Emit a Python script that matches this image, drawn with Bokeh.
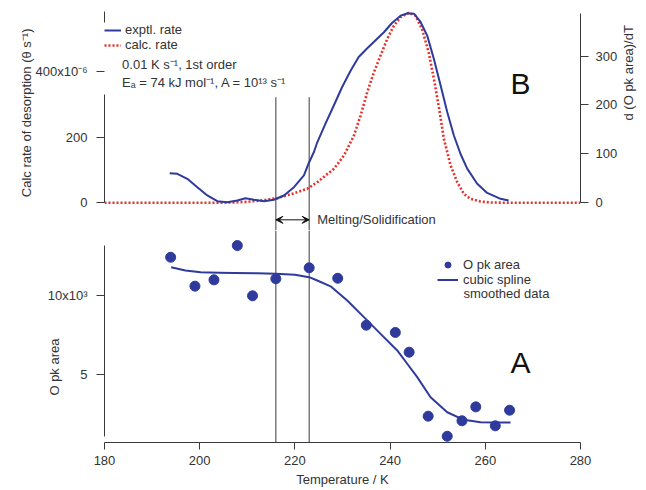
import math
from bokeh.plotting import figure
from bokeh.layouts import column
from bokeh.models import (Range1d, LinearAxis, FixedTicker, Label, Arrow, VeeHead,
                          Legend, LegendItem, Title)
from bokeh.embed import file_html
from bokeh.resources import INLINE

FONT = "Liberation Sans"
BLUE = "#2e3b9c"
RED = "#e8302a"
AXIS = "#3a3a3a"
TEXT = "#333333"

# ---------------- data ----------------
# Panel A: O pk area (raw) and cubic-spline smoothed data
area_T = [193.9, 199.0, 203.0, 207.9, 211.1, 216.0, 223.0, 229.0, 235.0, 241.1,
          244.0, 248.0, 252.0, 255.1, 258.0, 262.1, 265.1]
area_vals = [12440, 10610, 11010, 13180, 10000, 11080, 11770, 11110, 8140, 7680,
             6430, 2380, 1110, 2090, 2970, 1770, 2760]
spline_T = [194, 197, 200.2, 204, 207.2, 212, 216, 220, 223, 224.7, 227.5, 231,
            234.5, 238, 241.5, 243.6, 245.7, 248.5, 252, 255.5, 259, 262, 265.3]
spline_vals = [11810, 11600, 11490, 11460, 11450, 11420, 11390, 11330, 11180, 10970,
               10600, 9700, 8650, 7590, 6540, 5700, 4850, 3580, 2630, 2150, 2000,
               1980, 1980]

# Panel B: experimental rate d(O pk area)/dT (right axis)
exptl_T = [193.7, 195.3, 197.4, 199.5, 201.6, 203.7, 205.8, 207.9, 209.6, 211.4,
           213.5, 215.6, 217.7, 219.8, 221.9, 222.9, 224.0, 224.7, 226.4, 228.2,
           229.9, 231.7, 233.4, 235.2, 236.9, 238.7, 240.4, 242.2, 243.7, 245.0,
           246.4, 247.8, 249.2, 250.6, 252.0, 253.4, 254.8, 256.2, 258.3, 260.4,
           263.2, 264.9]
exptl_rate = [59.5, 58.3, 48, 30.8, 13.8, 2, 0, 3.5, 8, 5,
              2, 5, 13.8, 30.8, 55, 80, 103, 123, 161, 199,
              236, 270, 298, 316, 332, 349, 368, 383, 388, 387,
              370, 342, 294, 240, 185, 137, 99, 69, 38, 19,
              7, 3.5]

# Panel B: calculated desorption rate (left axis, units of 1e-6 theta/s)
calc_T = [180, 200, 205, 208, 210, 212.8, 216.3, 219.8, 222.6, 224.7,
          226.4, 228.2, 230.3, 232.4, 233.8, 235.2, 236.6, 238.0, 239.4, 240.8,
          242.2, 243.9, 245.3, 246.7, 248.1, 249.2, 250.3, 251.3, 252.7, 254.1,
          255.5, 256.9, 259.0, 261.0, 265, 280]
calc_rate = [0, 0, 0.5, 1.5, 3, 7, 14, 29, 42.7, 62.8,
             83, 103.7, 144, 205, 266, 337, 398, 449, 500, 540,
             566, 579, 571, 530, 459, 378, 287, 195, 114, 63,
             27, 12, 4, 1, 0, 0]

melt_T = [216, 223]
x_ticks = [180, 200, 220, 240, 260, 280]
area_ticks = [5000, 10000]
area_tick_labels = {5000: "5", 10000: "10x10³"}
rate_ticks = [0, 200, 400]
rate_tick_labels = {0: "0", 200: "200", 400: "400x10⁻⁶"}
dadt_ticks = [0, 100, 200, 300]

# ---------------- figures ----------------
xr = Range1d(180, 280)
common = dict(width=646, output_backend="svg", toolbar_location=None, x_range=xr,
              y_axis_location=None, min_border_left=104, min_border_right=66)

top = figure(height=230, y_range=Range1d(-84.5, 586.3), x_axis_location=None,
             min_border_top=10, min_border_bottom=0, **common)
top.extra_y_ranges = {"dadt": Range1d(-58.1, 393.6)}

bot = figure(height=260, y_range=Range1d(715, 14133),
             min_border_top=0, min_border_bottom=48, **common)

for f in (top, bot):
    f.grid.visible = False
    f.outline_line_color = None
    f.background_fill_color = "white"
    f.border_fill_color = "white"


def style(ax, tick_out=8, standoff=9):
    ax.axis_line_color = AXIS
    ax.axis_line_width = 1
    ax.major_tick_line_color = AXIS
    ax.major_tick_out = tick_out
    ax.major_tick_in = 0
    ax.minor_tick_out = 0
    ax.minor_tick_in = 0
    ax.major_label_text_font = FONT
    ax.major_label_text_font_size = "13px"
    ax.major_label_text_color = TEXT
    ax.major_label_standoff = standoff
    ax.axis_label_text_font = FONT
    ax.axis_label_text_font_size = "13px"
    ax.axis_label_text_font_style = "normal"
    ax.axis_label_text_color = TEXT


def side_title(fig, text, side, offset, standoff):
    t = Title(text=text, align="right", offset=offset, standoff=standoff,
              text_font=FONT, text_font_size="13px", text_font_style="normal",
              text_color=TEXT)
    fig.add_layout(t, side)


# --- top panel axes ---
ax_rate = LinearAxis(ticker=FixedTicker(ticks=rate_ticks), bounds=(0, 583),
                     major_label_overrides=rate_tick_labels)
style(ax_rate)
ax_rate.axis_line_dash = "108 72 20"
top.add_layout(ax_rate, "left")
side_title(top, "Calc rate of desorption (θ s⁻¹)", "left", 18, -2)

ax_dadt = LinearAxis(y_range_name="dadt", ticker=FixedTicker(ticks=dadt_ticks),
                     bounds=(0, 388), axis_label="d (O pk area)/dT",
                     axis_label_standoff=8)
style(ax_dadt, tick_out=8, standoff=7)
ax_dadt.axis_label_orientation = math.pi / 2
ax_dadt.axis_label_text_align = "center"
top.add_layout(ax_dadt, "right")

# --- bottom panel axes ---
ax_area = LinearAxis(ticker=FixedTicker(ticks=area_ticks), bounds=(1110, 13180),
                     major_label_overrides=area_tick_labels)
style(ax_area)
bot.add_layout(ax_area, "left")
side_title(bot, "O pk area", "left", 108, -34)

xa = bot.xaxis[0]
xa.ticker = FixedTicker(ticks=x_ticks)
style(xa, tick_out=7, standoff=6)
xa.axis_label = "Temperature / K"
xa.axis_label_standoff = 4

# ---------------- glyphs ----------------
top.segment(x0=melt_T, y0=[-84.5] * 2, x1=melt_T, y1=[322] * 2,
            line_color=AXIS, line_width=1)
bot.segment(x0=melt_T, y0=[715] * 2, x1=melt_T, y1=[14133] * 2,
            line_color=AXIS, line_width=1)

r_calc = top.line(calc_T, calc_rate, line_color=RED, line_width=2.6, line_dash="2 2")
r_exp = top.line(exptl_T, exptl_rate, y_range_name="dadt", line_color=BLUE,
                 line_width=2, line_join="round")

r_spline = bot.line(spline_T, spline_vals, line_color=BLUE, line_width=2, line_join="round")
r_pts = bot.scatter(area_T, area_vals, size=10, marker="circle",
                    fill_color=BLUE, line_color=BLUE)

# ---------------- annotations ----------------
top.add_layout(Arrow(x_start=melt_T[0], x_end=melt_T[1], y_start=-52, y_end=-52,
                     line_color="#111", line_width=1,
                     start=VeeHead(size=7, fill_color="#111", line_color="#111"),
                     end=VeeHead(size=7, fill_color="#111", line_color="#111")))


def lab(fig, text, x, y, size="13px", align="left", color=TEXT):
    fig.add_layout(Label(x=x, y=y, text=text, text_font=FONT, text_font_size=size,
                         text_color=color, text_align=align, text_baseline="middle"))


lab(top, "Melting/Solidification", 224.7, -52)
lab(top, "0.01 K s⁻¹, 1st order", 183.7, 421.6)
lab(top, "Eₐ = 74 kJ mol⁻¹, A = 10¹³ s⁻¹", 183.7, 366.8)
lab(top, "B", 267.4, 365, size="30px", align="center", color="#111")
lab(bot, "A", 267.4, 5800, size="30px", align="center", color="#111")
lab(bot, "smoothed data", 255.4, 10140)

# legends
leg_kw = dict(padding=0, spacing=0, margin=0, label_text_font=FONT,
              label_text_font_size="13px", label_text_color=TEXT,
              background_fill_alpha=0, border_line_alpha=0)
top.add_layout(Legend(items=[LegendItem(label="exptl. rate", renderers=[r_exp]),
                             LegendItem(label="calc. rate", renderers=[r_calc])],
                      location=(0, 178), glyph_width=17, glyph_height=14,
                      label_height=14, label_standoff=4, **leg_kw))
bot.add_layout(Legend(items=[LegendItem(label="O pk area", renderers=[r_pts]),
                             LegendItem(label="cubic spline", renderers=[r_spline])],
                      location=(333, 155.5), glyph_width=21, glyph_height=15,
                      label_height=15, label_standoff=5, **leg_kw))

layout = column(top, bot, spacing=0)
open("out.html", "w").write(file_html(layout, INLINE))
